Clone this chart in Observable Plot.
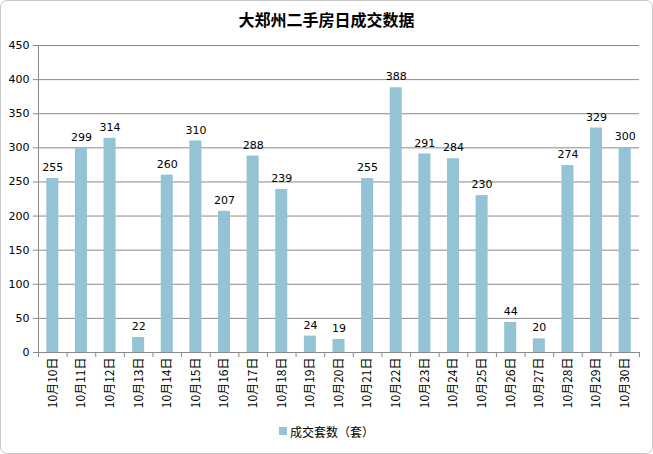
<!DOCTYPE html>
<html><head><meta charset="utf-8">
<script src="https://cdn.jsdelivr.net/npm/d3@7"></script>
<script src="https://cdn.jsdelivr.net/npm/@observablehq/plot@0.6"></script>
<style>
html,body{margin:0;padding:0;background:#fff;}
#frame{position:relative;width:651px;height:452px;border:1px solid #c8c8c8;border-radius:7px;overflow:hidden;font-family:"DejaVu Sans","Noto Sans CJK SC",sans-serif;}
#title{height:30px;line-height:36px;text-align:center;font-family:"Noto Sans CJK SC",sans-serif;font-weight:bold;font-size:16px;color:#000;}
#legend{height:42px;display:flex;align-items:center;justify-content:center;font-family:"Noto Sans CJK SC",sans-serif;font-size:12px;color:#000;padding-bottom:2px;box-sizing:border-box;}
#legend .sw{display:inline-block;width:8px;height:8px;background:#93c3d5;margin-right:3px;}
</style></head><body>
<div id="frame">
<div id="title">大郑州二手房日成交数据</div>
<div id="chart"></div>
<div id="legend"><span class="sw"></span><span>成交套数（套）</span></div>
</div>
<script>
const dates = ["10月10日","10月11日","10月12日","10月13日","10月14日","10月15日","10月16日","10月17日","10月18日","10月19日","10月20日","10月21日","10月22日","10月23日","10月24日","10月25日","10月26日","10月27日","10月28日","10月29日","10月30日"];
const sales = [255,299,314,22,260,310,207,288,239,24,19,255,388,291,284,230,44,20,274,329,300];
const yTicks = [0,50,100,150,200,250,300,350,400,450];
const seriesName = "成交套数（套）";

const data = dates.map((d,i)=>({i, date:d, v:sales[i]}));
const n = dates.length;
const barColor = "#93c3d5";

const chart = Plot.plot({
  width: 651, height: 380,
  marginTop: 14, marginBottom: 59, marginLeft: 37, marginRight: 13,
  style: {fontFamily: '"DejaVu Sans","Noto Sans CJK SC",sans-serif', fontSize: "11px", color: "#000", background: "#fff"},
  x: {type: "linear", domain: [0, n], axis: null},
  y: {domain: [0, 450], axis: null},
  marks: [
    Plot.gridY(yTicks, {stroke: "#8a8a8a", strokeOpacity: 1}),
    Plot.rectY(data, {x1: d=>d.i+0.29, x2: d=>d.i+0.71, y: "v", fill: barColor}),
    Plot.ruleX([0], {stroke: "#8a8a8a"}),
    Plot.ruleY([0], {stroke: "#8a8a8a"}),
    Plot.axisY({ticks: yTicks, tickSize: 5, stroke: "#8a8a8a", tickPadding: 4, fontSize: 11, label: null, tickFormat: d=>String(d)}),
    Plot.axisX({ticks: d3.range(n+1), tickSize: 5, stroke: "#8a8a8a", label: null, tickFormat: () => ""}),
    Plot.axisX({ticks: d3.range(n).map(i=>i+0.5), tickSize: 0, tickPadding: 5, tickRotate: -90, fontSize: 12, label: null, fontFamily: '"Noto Sans CJK SC",sans-serif', tickFormat: v => dates[Math.floor(v)]}),
    Plot.text(data, {x: d=>d.i+0.5, y: "v", text: d=>String(d.v), dy: -11, fontSize: 11, fill: "#000"})
  ]
});
document.getElementById("chart").appendChild(chart);
</script>
</body></html>
